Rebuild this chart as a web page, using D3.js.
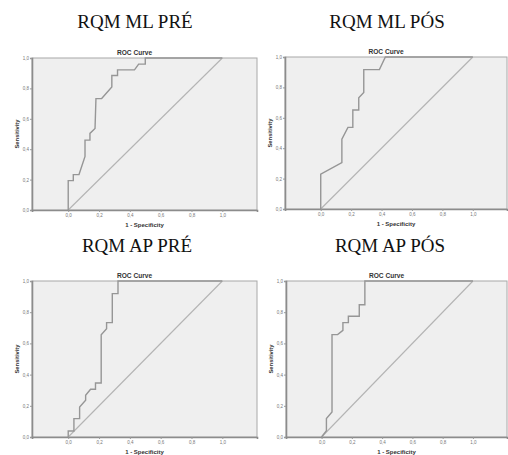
<!DOCTYPE html>
<html>
<head>
<meta charset="utf-8">
<script src="https://cdn.jsdelivr.net/npm/d3@7"></script>
<style>
  html, body { margin: 0; padding: 0; background: #fff; }
  svg { display: block; }
</style>
</head>
<body>
<svg id="chart" width="508" height="455"></svg>
<script>
// ---- Data ----
const panelTitles = ["RQM ML PRÉ", "RQM ML PÓS", "RQM AP PRÉ", "RQM AP PÓS"];
const chartTitle = "ROC Curve";
const xLabel = "1 - Specificity";
const yLabel = "Sensitivity";
const xTicks = [0, 0.2, 0.4, 0.6, 0.8, 1.0];
const yTicks = [0, 0.2, 0.4, 0.6, 0.8, 1.0];

const mlPreFpr = [0, 0, 0.033, 0.033, 0.07, 0.109, 0.109, 0.141, 0.141, 0.174, 0.18, 0.217, 0.283, 0.283, 0.32, 0.32, 0.43, 0.457, 0.5, 0.5, 1.0];
const mlPreTpr = [0, 0.193, 0.193, 0.233, 0.233, 0.352, 0.46, 0.46, 0.504, 0.537, 0.733, 0.733, 0.809, 0.885, 0.885, 0.922, 0.922, 0.96, 0.96, 1.0, 1.0];

const mlPosFpr = [0, 0, 0.139, 0.139, 0.179, 0.211, 0.211, 0.25, 0.25, 0.283, 0.283, 0.386, 0.425, 1.0];
const mlPosTpr = [0, 0.229, 0.306, 0.459, 0.537, 0.537, 0.651, 0.651, 0.731, 0.766, 0.917, 0.917, 1.0, 1.0];

const apPreFpr = [0, 0, 0.037, 0.037, 0.074, 0.074, 0.113, 0.113, 0.145, 0.177, 0.177, 0.214, 0.214, 0.249, 0.249, 0.286, 0.286, 0.323, 0.323, 1.0];
const apPreTpr = [0, 0.038, 0.038, 0.118, 0.118, 0.192, 0.235, 0.267, 0.306, 0.306, 0.346, 0.346, 0.656, 0.694, 0.733, 0.733, 0.919, 0.919, 1.0, 1.0];

const apPosFpr = [0, 0.032, 0.032, 0.069, 0.069, 0.106, 0.141, 0.141, 0.177, 0.177, 0.249, 0.249, 0.286, 0.286, 1.0];
const apPosTpr = [0, 0.04, 0.118, 0.16, 0.656, 0.656, 0.684, 0.733, 0.733, 0.774, 0.774, 0.848, 0.848, 1.0, 1.0];

const seriesFpr = [mlPreFpr, mlPosFpr, apPreFpr, apPosFpr];
const seriesTpr = [mlPreTpr, mlPosTpr, apPreTpr, apPosTpr];

// ---- Layout ----
const boxes = [
  { left: 32, right: 257, top: 58, bottom: 210, titleX: 135, titleY: 28 },
  { left: 285, right: 507, top: 57, bottom: 209, titleX: 387, titleY: 28 },
  { left: 32, right: 257, top: 281, bottom: 437, titleX: 137, titleY: 252 },
  { left: 286, right: 507, top: 281, bottom: 437, titleX: 390, titleY: 252 }
];

const svg = d3.select("#chart");
const fmt = v => d3.format(".1f")(v).replace(".", ",");

boxes.forEach((b, i) => {
  const x = d3.scaleLinear().domain([-0.235, 1.225]).range([b.left, b.right]);
  const y = d3.scaleLinear().domain([0, 1]).range([b.bottom, b.top]);

  // panel title
  svg.append("text")
    .attr("x", b.titleX).attr("y", b.titleY)
    .attr("text-anchor", "middle")
    .attr("font-family", "Liberation Serif, Times New Roman, serif")
    .attr("font-size", 19)
    .attr("fill", "#111")
    .text(panelTitles[i]);

  // plot background
  svg.append("rect")
    .attr("x", b.left).attr("y", b.top)
    .attr("width", b.right - b.left).attr("height", b.bottom - b.top)
    .attr("fill", "#efefef")
    .attr("stroke", "#a8a8a8").attr("stroke-width", 1);

  // diagonal reference
  svg.append("line")
    .attr("x1", x(0)).attr("y1", y(0))
    .attr("x2", x(1)).attr("y2", y(1))
    .attr("stroke", "#b4b4b4").attr("stroke-width", 1.1);

  // ROC curve
  const pts = seriesFpr[i].map((f, k) => [f, seriesTpr[i][k]]);
  svg.append("path")
    .datum(pts)
    .attr("d", d3.line().x(d => x(d[0])).y(d => y(d[1])))
    .attr("fill", "none")
    .attr("stroke", "#969696").attr("stroke-width", 1.4);

  // axes
  const xAxis = svg.append("g")
    .attr("transform", `translate(0,${b.bottom})`)
    .call(d3.axisBottom(x).tickValues(xTicks).tickFormat(fmt).tickSize(2).tickPadding(2));
  const yAxis = svg.append("g")
    .attr("transform", `translate(${b.left},0)`)
    .call(d3.axisLeft(y).tickValues(yTicks).tickFormat(fmt).tickSize(2).tickPadding(1));
  [xAxis, yAxis].forEach(g => {
    g.select(".domain").attr("stroke", "#8c8c8c").attr("stroke-width", 1.6);
    g.selectAll(".tick line").attr("stroke", "#999");
    g.selectAll(".tick text")
      .attr("font-family", "Liberation Sans, Arial, sans-serif")
      .attr("font-size", 4.5)
      .attr("fill", "#777");
  });

  // chart title
  svg.append("text")
    .attr("x", (b.left + b.right) / 2 - 10).attr("y", b.top - 3)
    .attr("text-anchor", "middle")
    .attr("font-family", "Liberation Sans, Arial, sans-serif")
    .attr("font-size", 6.6).attr("font-weight", "bold")
    .attr("fill", "#333")
    .text(chartTitle);

  // x label
  svg.append("text")
    .attr("x", (b.left + b.right) / 2).attr("y", b.bottom + 17)
    .attr("text-anchor", "middle")
    .attr("font-family", "Liberation Sans, Arial, sans-serif")
    .attr("font-size", 6).attr("font-weight", "bold")
    .attr("fill", "#333")
    .text(xLabel);

  // y label
  svg.append("text")
    .attr("transform", `translate(${b.left - 13},${(b.top + b.bottom) / 2}) rotate(-90)`)
    .attr("text-anchor", "middle")
    .attr("font-family", "Liberation Sans, Arial, sans-serif")
    .attr("font-size", 5.8).attr("font-weight", "bold")
    .attr("fill", "#333")
    .text(yLabel);
});
</script>
</body>
</html>
